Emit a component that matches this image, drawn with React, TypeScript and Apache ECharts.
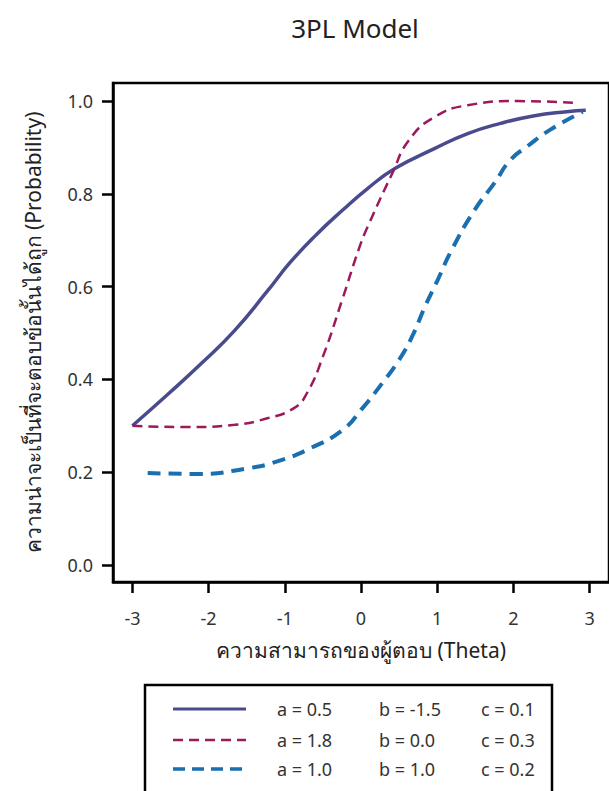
import React, { useEffect, useRef } from "react";
import * as echarts from "echarts";

const titleText = "3PL Model";
const xAxisName = "ความสามารถของผู้ตอบ (Theta)";
const yAxisName = "ความน่าจะเป็นที่จะตอบข้อนั้นได้ถูก (Probability)";
const xTicks = [-3, -2, -1, 0, 1, 2, 3];
const yTicks = [0, 0.2, 0.4, 0.6, 0.8, 1.0];

const thetaA = [-3.0, -2.52, -2.09, -1.66, -1.23, -0.93, -0.58, -0.24, 0.09, 0.45, 0.97, 1.4, 1.83, 2.26, 2.7, 2.95];
const probA = [0.3, 0.37, 0.435, 0.505, 0.59, 0.652, 0.713, 0.765, 0.812, 0.855, 0.898, 0.93, 0.952, 0.968, 0.977, 0.98];

const thetaB = [-3.0, -2.31, -1.66, -1.23, -0.88, -0.71, -0.5, -0.24, -0.02, 0.09, 0.41, 0.63, 0.97, 1.4, 2.05, 2.85];
const probB = [0.3, 0.297, 0.302, 0.316, 0.338, 0.37, 0.449, 0.575, 0.685, 0.73, 0.844, 0.916, 0.966, 0.991, 1.0, 0.996];

const thetaC = [-2.8, -2.14, -1.49, -1.1, -0.67, -0.24, 0.02, 0.28, 0.5, 0.67, 0.84, 1.0, 1.19, 1.49, 1.75, 1.96, 2.18, 2.48, 2.91];
const probC = [0.198, 0.196, 0.208, 0.223, 0.251, 0.291, 0.338, 0.392, 0.442, 0.492, 0.557, 0.612, 0.679, 0.765, 0.823, 0.873, 0.902, 0.938, 0.977];

const legendA = ["a = 0.5", "b = -1.5", "c = 0.1"];
const legendB = ["a = 1.8", "b = 0.0", "c = 0.3"];
const legendC = ["a = 1.0", "b = 1.0", "c = 0.2"];

const colA = "#4a4a8e";
const colB = "#9c1a5c";
const colC = "#1a6fb0";
const FONT = "'Noto Sans', 'DejaVu Sans', sans-serif";

function pairs(xs: number[], ys: number[]) {
  return xs.map((x, i) => [x, ys[i]]);
}

export default function App() {
  const ref = useRef<HTMLDivElement>(null);
  useEffect(() => {
    if (!ref.current) return;
    const chart = echarts.init(ref.current, null, { renderer: "svg" });
    const legendRows = [
      { labels: legendA, color: colA, dash: null as any, w: 3, y: 709 },
      { labels: legendB, color: colB, dash: [10, 6], w: 2.5, y: 740 },
      { labels: legendC, color: colC, dash: [12, 7], w: 3.5, y: 769 },
    ];
    const graphics: any[] = [
      {
        type: "rect",
        shape: { x: 145, y: 685, width: 407, height: 130 },
        style: { fill: "#fff", stroke: "#000", lineWidth: 2.5 },
      },
    ];
    legendRows.forEach((r) => {
      graphics.push({
        type: "line",
        shape: { x1: 173, y1: r.y, x2: 246, y2: r.y },
        style: { stroke: r.color, lineWidth: r.w, lineDash: r.dash },
      });
      [277, 379, 481].forEach((x, i) => {
        graphics.push({
          type: "text",
          x,
          y: r.y,
          style: {
            text: r.labels[i],
            fill: "#333",
            font: `18px ${FONT}`,
            verticalAlign: "middle",
            align: "left",
          },
        });
      });
    });

    chart.setOption({
      animation: false,
      backgroundColor: "#fff",
      title: {
        text: titleText,
        left: 350,
        top: 10,
        textAlign: "center",
        textStyle: { fontFamily: FONT, fontSize: 26, fontWeight: "normal", color: "#222" },
      },
      grid: {
        left: 113,
        top: 83,
        right: -7,
        bottom: 209,
        show: true,
        borderColor: "#000",
        borderWidth: 2.5,
      },
      xAxis: {
        type: "value",
        min: -3.255,
        max: 3.255,
        name: xAxisName,
        nameLocation: "middle",
        nameGap: 57,
        nameTextStyle: { fontFamily: FONT, fontSize: 21, color: "#222" },
        splitLine: { show: false },
        axisLine: { show: true, onZero: false, lineStyle: { color: "#000", width: 2.5 } },
        axisTick: {
          show: true,
          length: 11,
          lineStyle: { color: "#000", width: 2.5 },
          customValues: xTicks,
        },
        axisLabel: {
          customValues: xTicks,
          margin: 27,
          fontFamily: FONT,
          fontSize: 18,
          color: "#333",
          formatter: (v: number) => String(Math.round(v)),
        },
      },
      yAxis: {
        type: "value",
        min: -0.037,
        max: 1.039,
        name: yAxisName,
        nameLocation: "middle",
        nameGap: 70,
        nameTextStyle: { fontFamily: FONT, fontSize: 21, color: "#222" },
        splitLine: { show: false },
        axisLine: { show: true, onZero: false, lineStyle: { color: "#000", width: 2.5 } },
        axisTick: {
          show: true,
          length: 11,
          lineStyle: { color: "#000", width: 2.5 },
          customValues: yTicks,
        },
        axisLabel: {
          customValues: yTicks,
          margin: 20,
          fontFamily: FONT,
          fontSize: 18,
          color: "#333",
          formatter: (v: number) => v.toFixed(1),
        },
      },
      series: [
        {
          type: "line",
          data: pairs(thetaA, probA),
          smooth: 0.5,
          showSymbol: false,
          lineStyle: { color: colA, width: 3.5 },
        },
        {
          type: "line",
          data: pairs(thetaB, probB),
          smooth: 0.5,
          showSymbol: false,
          lineStyle: { color: colB, width: 2.5, type: [10, 6] },
        },
        {
          type: "line",
          data: pairs(thetaC, probC),
          smooth: 0.5,
          showSymbol: false,
          lineStyle: { color: colC, width: 4, type: [13, 8] },
        },
      ],
      graphic: graphics,
    });
    return () => chart.dispose();
  }, []);
  return (
    <div
      ref={ref}
      style={{ position: "fixed", left: 0, top: 0, width: 609, height: 791, overflow: "hidden" }}
    />
  );
}
